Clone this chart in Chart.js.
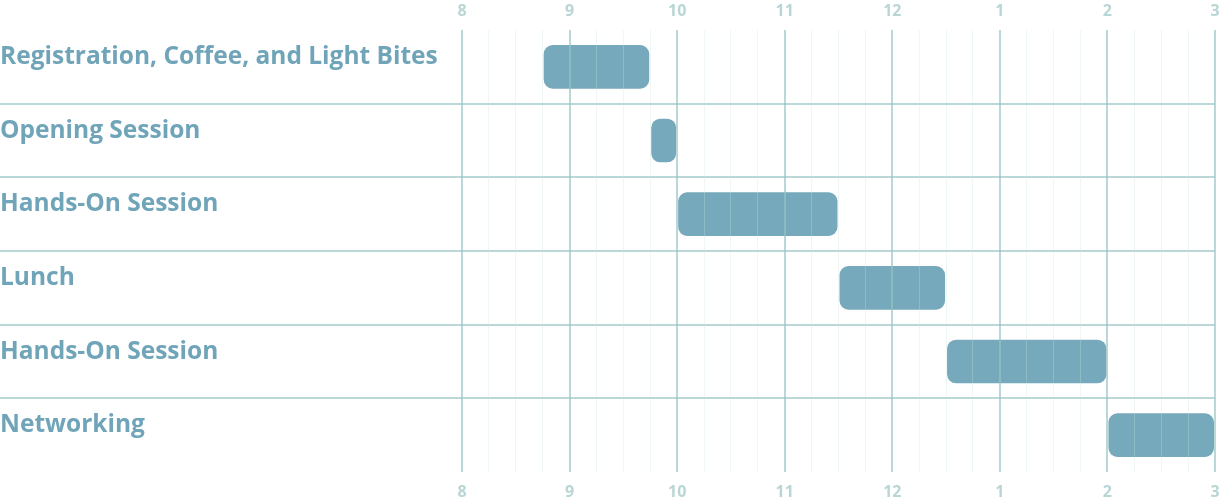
<!DOCTYPE html>
<html>
<head>
<meta charset="utf-8">
<script src="https://cdn.jsdelivr.net/npm/chart.js@4"></script>
<style>
  html, body { margin: 0; padding: 0; background: #ffffff; }
  #wrap { width: 1223px; height: 503px; }
</style>
</head>
<body>
<div id="wrap"><canvas id="agenda"></canvas></div>
<script>
// schedule, in hours of the day (14 = 2pm)
const sessions = ['Registration, Coffee, and Light Bites', 'Opening Session', 'Hands-On Session', 'Lunch', 'Hands-On Session', 'Networking'];
const starts = [8.75, 9.75, 10, 11.5, 12.5, 14];
const ends = [9.75, 10, 11.5, 12.5, 14, 15];
const hours = [8, 9, 10, 11, 12, 13, 14, 15];
const hourLabels = ['8', '9', '10', '11', '12', '1', '2', '3'];

const barColor = '#76a9bb';
const textColor = '#70a5b9';
const tickColor = '#b8d6d5';
const lineColor = 'rgba(150, 195, 195, 0.65)';
const minorColor = 'rgba(200, 225, 225, 0.3)';

const spans = starts.map((s, i) => [s, ends[i]]);

function hourTick(value) {
    const i = hours.indexOf(value);
    return i === -1 ? '' : hourLabels[i];
}

// row labels and row separators, placed from the y scale
const rowPlugin = {
    id: 'rows',
    beforeDatasetsDraw(chart) {
        const ctx = chart.ctx;
        const y = chart.scales.y;
        const area = chart.chartArea;
        const half = (y.getPixelForValue(1) - y.getPixelForValue(0)) / 2;
        ctx.save();
        ctx.strokeStyle = lineColor;
        ctx.lineWidth = 2;
        for (let i = 1; i < sessions.length; i++) {
            const py = Math.round(y.getPixelForValue(i) - half);
            ctx.beginPath();
            ctx.moveTo(0, py);
            ctx.lineTo(area.right, py);
            ctx.stroke();
        }
        ctx.fillStyle = textColor;
        ctx.font = 'bold 24.5px "Open Sans"';
        ctx.textAlign = 'left';
        ctx.textBaseline = 'alphabetic';
        sessions.forEach((name, i) => {
            const top = y.getPixelForValue(i) - half;
            ctx.fillText(name, 0, top + 34);
        });
        ctx.restore();
    }
};

const tickFont = { family: 'Open Sans', size: 16, weight: 'bold' };

// keep the plot flush with the labels on both sides
function fitX(height) {
    return (scale) => {
        scale.height = height;
        scale.paddingLeft = 0;
        scale.paddingRight = 8;
    };
}

const ctx = document.getElementById('agenda').getContext('2d');
const agendaChart = new Chart(ctx, {
    type: 'bar',
    data: {
        labels: sessions.map((s, i) => i),
        datasets: [
            {
                data: spans,
                backgroundColor: barColor,
                borderColor: 'rgba(0, 0, 0, 0)',
                borderWidth: 1,
                borderSkipped: false,
                borderRadius: 10,
                barPercentage: 0.62,
                categoryPercentage: 1
            }
        ]
    },
    options: {
        indexAxis: 'y',
        responsive: true,
        maintainAspectRatio: false,
        animation: false,
        layout: {
            padding: { left: 462, right: 0, top: 0, bottom: 0 }
        },
        plugins: {
            legend: { display: false },
            tooltip: { enabled: false }
        },
        scales: {
            y: {
                type: 'category',
                display: false
            },
            x: {
                type: 'linear',
                position: 'bottom',
                min: 8,
                max: 15,
                border: { display: false },
                grid: {
                    z: 1,
                    drawTicks: false,
                    color: (c) => Number.isInteger(c.tick && c.tick.value) ? lineColor : minorColor,
                    lineWidth: (c) => Number.isInteger(c.tick && c.tick.value) ? 2 : 1
                },
                ticks: {
                    stepSize: 0.25,
                    autoSkip: false,
                    maxRotation: 0,
                    padding: 11,
                    color: tickColor,
                    font: tickFont,
                    callback: hourTick
                },
                afterFit: fitX(31)
            },
            x2: {
                type: 'linear',
                position: 'top',
                min: 8,
                max: 15,
                border: { display: false },
                grid: { display: false, drawTicks: false },
                ticks: {
                    stepSize: 0.25,
                    autoSkip: false,
                    maxRotation: 0,
                    padding: 9,
                    color: tickColor,
                    font: tickFont,
                    callback: hourTick
                },
                afterFit: fitX(30)
            }
        }
    },
    plugins: [rowPlugin]
});
</script>
</body>
</html>
